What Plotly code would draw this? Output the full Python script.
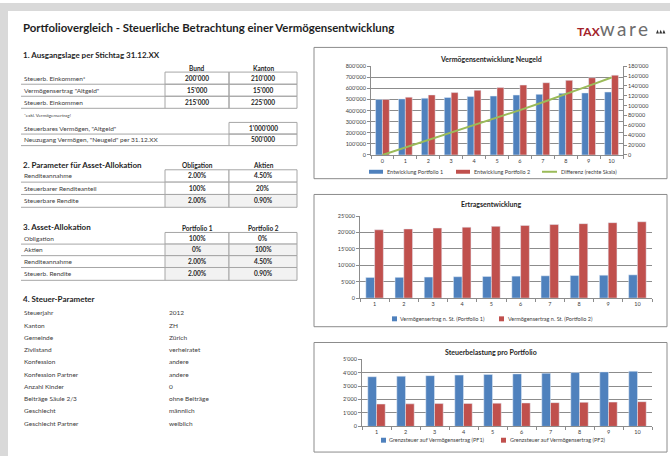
import plotly.graph_objects as go

W, H = 670, 459
def X(p): return p / W
def Y(p): return 1 - p / H

FONT = "Lato, 'Open Sans', sans-serif"
BLUE, RED, GREEN = "#4f81bd", "#c0504d", "#9bbb59"
GRID = "#8c8c8c"
TXT = "#404040"

# ---------------- data ----------------
title_text = "Portfoliovergleich - Steuerliche Betrachtung einer Vermögensentwicklung"

s1_title = "1. Ausgangslage per Stichtag 31.12.XX"
s1_cols = ["Bund", "Kanton"]
s1_labels = ["Steuerb. Einkommen*", 'Vermögensertrag "Altgeld"', "Steuerb. Einkommen"]
s1_bund = [200000, 15000, 215000]
s1_kanton = [210000, 15000, 225000]
s1_note = "*exkl. Vermögensertrag!"
s1b_labels = ['Steuerbares Vermögen, "Altgeld"', 'Neuzugang Vermögen, "Neugeld" per 31.12.XX']
s1b_values = [1000000, 500000]

s2_title = "2. Parameter für Asset-Allokation"
s2_cols = ["Obligation", "Aktien"]
s2_labels = ["Renditeannahme", "Steuerbarer Renditeanteil", "Steuerbare Rendite"]
s2_oblig = ["2.00%", "100%", "2.00%"]
s2_aktien = ["4.50%", "20%", "0.90%"]

s3_title = "3. Asset-Allokation"
s3_cols = ["Portfolio 1", "Portfolio 2"]
s3_labels = ["Obligation", "Aktien", "Renditeannahme", "Steuerb. Rendite"]
s3_pf1 = ["100%", "0%", "2.00%", "2.00%"]
s3_pf2 = ["0%", "100%", "4.50%", "0.90%"]

s4_title = "4. Steuer-Parameter"
s4_labels = ["Steuerjahr", "Kanton", "Gemeinde", "Zivilstand", "Konfession",
             "Konfession Partner", "Anzahl Kinder", "Beiträge Säule 2/3",
             "Geschlecht", "Geschlecht Partner"]
s4_values = ["2012", "ZH", "Zürich", "verheiratet", "andere", "andere", "0",
             "ohne Beiträge", "männlich", "weiblich"]

# Chart 1
c1_title = "Vermögensentwicklung Neugeld"
c1_years = [0, 1, 2, 3, 4, 5, 6, 7, 8, 9, 10]
c1_pf1 = [500000, 505000, 512000, 518000, 526000, 531000, 540000, 546000, 555000, 559000, 567000]
c1_pf2 = [500000, 521000, 541000, 562000, 583000, 607000, 630000, 651000, 672000, 696000, 719000]
c1_diff = [0, 15000, 30000, 45000, 60000, 75500, 91000, 107000, 123000, 140000, 157000]
c1_names = ["Entwicklung Portfolio 1", "Entwicklung Portfolio 2", "Differenz (rechte Skala)"]

# Chart 2
c2_title = "Ertragsentwicklung"
c2_years = [1, 2, 3, 4, 5, 6, 7, 8, 9, 10]
c2_pf1 = [6300, 6340, 6420, 6520, 6600, 6700, 6800, 6880, 6980, 7090]
c2_pf2 = [20840, 21100, 21380, 21640, 21900, 22180, 22450, 22720, 23020, 23300]
c2_names = ["Vermögensertrag n. St. (Portfolio 1)", "Vermögensertrag n. St. (Portfolio 2)"]

# Chart 3
c3_title = "Steuerbelastung pro Portfolio"
c3_years = [1, 2, 3, 4, 5, 6, 7, 8, 9, 10]
c3_pf1 = [3700, 3740, 3780, 3820, 3870, 3910, 3960, 4010, 4060, 4110]
c3_pf2 = [1665, 1680, 1700, 1710, 1730, 1745, 1770, 1795, 1810, 1840]
c3_names = ["Grenzsteuer auf Vermögensertrag (PF1)", "Grenzsteuer auf Vermögensertrag (PF2)"]

def fmt(v):
    return f"{v:,}".replace(",", "'")

# ---------------- figure ----------------
fig = go.Figure()
fig.add_bar(x=c1_years, y=c1_pf1, name=c1_names[0], marker_color=BLUE, xaxis="x", yaxis="y")
fig.add_bar(x=c1_years, y=c1_pf2, name=c1_names[1], marker_color=RED, xaxis="x", yaxis="y")
fig.add_scatter(x=c1_years, y=c1_diff, name=c1_names[2], mode="lines",
                line=dict(color=GREEN, width=2), xaxis="x", yaxis="y2")
fig.add_bar(x=c2_years, y=c2_pf1, name=c2_names[0], marker_color=BLUE, xaxis="x2", yaxis="y3")
fig.add_bar(x=c2_years, y=c2_pf2, name=c2_names[1], marker_color=RED, xaxis="x2", yaxis="y3")
fig.add_bar(x=c3_years, y=c3_pf1, name=c3_names[0], marker_color=BLUE, xaxis="x3", yaxis="y4")
fig.add_bar(x=c3_years, y=c3_pf2, name=c3_names[1], marker_color=RED, xaxis="x3", yaxis="y4")

tickfont = dict(family=FONT, size=5.5, color=TXT)

def xax(dom, anchor, vals, rng):
    return dict(domain=[X(dom[0]), X(dom[1])], anchor=anchor, range=rng,
                tickmode="array", tickvals=vals, ticktext=[str(v) for v in vals],
                ticks="", showgrid=False, showline=True, linecolor=GRID, linewidth=1,
                tickfont=tickfont, zeroline=False, fixedrange=True,
                minor=dict(tickmode="linear", tick0=rng[0], dtick=1, ticks="outside",
                           ticklen=3, tickcolor=GRID, showgrid=False))

def yax(dom, anchor, rng, dt, side="left", overlay=None, grid=True):
    d = dict(domain=[Y(dom[1]), Y(dom[0])], anchor=anchor, range=rng, dtick=dt,
             tickformat=",d", showgrid=grid, gridcolor=GRID, gridwidth=1,
             showline=True, linecolor=GRID, linewidth=1, ticks="outside", ticklen=3,
             tickcolor=GRID, tickfont=tickfont, zeroline=False, side=side, fixedrange=True)
    if overlay:
        d["overlaying"] = overlay
    return d

fig.update_layout(
    xaxis=xax((371, 623), "y", c1_years, [-0.5, 10.5]),
    yaxis=yax((64, 154), "x", [0, 800000], 100000),
    yaxis2=yax((64, 154), "x", [0, 180000], 20000, side="right", overlay="y", grid=False),
    xaxis2=xax((360, 652), "y3", c2_years, [0.5, 10.5]),
    yaxis3=yax((216, 299), "x2", [0, 25000], 5000),
    xaxis3=xax((362, 652), "y4", c3_years, [0.5, 10.5]),
    yaxis4=yax((361, 429), "x3", [0, 5000], 1000),
)

shapes = []
ann = []

def text(x, y, s, size=7, color=TXT, bold=False, xanchor="left"):
    if bold:
        s = "<b>" + s + "</b>"
    ann.append(dict(x=X(x), y=Y(y), xref="paper", yref="paper", text=s, showarrow=False,
                    xanchor=xanchor, yanchor="middle",
                    font=dict(family=FONT, size=size, color=color)))

def line(x0, y0, x1, y1, color="#a6a6a6", width=1):
    shapes.append(dict(type="line", xref="paper", yref="paper", x0=X(x0), y0=Y(y0),
                       x1=X(x1), y1=Y(y1), line=dict(color=color, width=width)))

def rect(x0, y0, x1, y1, fill="rgba(0,0,0,0)", color="#a6a6a6", width=1, layer="above"):
    shapes.append(dict(type="rect", xref="paper", yref="paper", x0=X(x0), y0=Y(y0),
                       x1=X(x1), y1=Y(y1), fillcolor=fill,
                       line=dict(color=color, width=width), layer=layer))

# page background strips
rect(0, 0, 670, 8, fill="#d9d9d9", width=0, layer="below")
rect(0, 0, 8, 459, fill="#d9d9d9", width=0, layer="below")

# title and logo
text(21, 25, title_text, size=11.4, color="#1f1f1f", bold=True)
ann.append(dict(x=X(575), y=Y(26), xref="paper", yref="paper", showarrow=False,
                xanchor="left", yanchor="middle",
                text="<b><span style='color:#a3232b'>TAX</span></b>"
                     "<span style='color:#6d6d6d;font-size:19px;letter-spacing:2.5px'>ware</span>",
                font=dict(family=FONT, size=12)))
for i in range(3):
    shapes.append(dict(type="path", xref="paper", yref="paper",
                       path=f"M {X(656+i*3.2)} {Y(31)} L {X(657.5+i*3.2)} {Y(27)} L {X(659+i*3.2)} {Y(31)} Z",
                       fillcolor="#333", line=dict(width=0)))

LX0, C1, C2, C3 = 21, 165, 229, 297
CC1, CC2 = (C1 + C2) / 2, (C2 + C3) / 2
VAL = "#262626"

# Section 1
text(LX0, 53, s1_title, size=8, color="#1f1f1f", bold=True)
text(CC1, 66, s1_cols[0], size=6.5, color=VAL, bold=True, xanchor="center")
text(CC2, 66, s1_cols[1], size=6.5, color=VAL, bold=True, xanchor="center")
rows1 = [70, 82.3, 94.5, 106.7]
for i, lab in enumerate(s1_labels):
    y0, y1 = rows1[i], rows1[i + 1]
    rect(C1, y0, C2, y1)
    rect(C2, y0, C3, y1)
    line(LX0, y1, C1, y1)
    yc = (y0 + y1) / 2
    text(LX0 + 1, yc, lab, size=6.5)
    text(CC1, yc, fmt(s1_bund[i]), size=6.5, color=VAL, bold=True, xanchor="center")
    text(CC2, yc, fmt(s1_kanton[i]), size=6.5, color=VAL, bold=True, xanchor="center")
text(LX0 + 1, 114, s1_note, size=4.5)
rows1b = [121, 132.8, 144.5]
for i, lab in enumerate(s1b_labels):
    y0, y1 = rows1b[i], rows1b[i + 1]
    rect(C2, y0, C3, y1)
    line(LX0, y1, C2, y1)
    yc = (y0 + y1) / 2
    text(LX0 + 1, yc, lab, size=6.5)
    text(CC2, yc, fmt(s1b_values[i]), size=6.5, color=VAL, bold=True, xanchor="center")

# Section 2
text(LX0, 164, s2_title, size=8, color="#1f1f1f", bold=True)
text(CC1, 165, s2_cols[0], size=6.5, color=VAL, bold=True, xanchor="center")
text(CC2, 165, s2_cols[1], size=6.5, color=VAL, bold=True, xanchor="center")
rows2 = [169, 181.5, 194, 207]
for i, lab in enumerate(s2_labels):
    y0, y1 = rows2[i], rows2[i + 1]
    fill = "#f2f2f2" if i == 2 else "white"
    rect(C1, y0, C2, y1, fill=fill, layer="below")
    rect(C2, y0, C3, y1, fill=fill, layer="below")
    line(LX0, y1, C1, y1)
    yc = (y0 + y1) / 2
    text(LX0 + 1, yc, lab, size=6.5)
    text(CC1, yc, s2_oblig[i], size=6.5, color=VAL, bold=True, xanchor="center")
    text(CC2, yc, s2_aktien[i], size=6.5, color=VAL, bold=True, xanchor="center")

# Section 3
text(LX0, 227, s3_title, size=8, color="#1f1f1f", bold=True)
text(CC1, 228, s3_cols[0], size=6.5, color=VAL, bold=True, xanchor="center")
text(CC2, 228, s3_cols[1], size=6.5, color=VAL, bold=True, xanchor="center")
rows3 = [232.5, 244.3, 256, 268, 281]
for i, lab in enumerate(s3_labels):
    y0, y1 = rows3[i], rows3[i + 1]
    fill = "#f2f2f2" if i >= 1 else "white"
    rect(C1, y0, C2, y1, fill=fill, layer="below")
    rect(C2, y0, C3, y1, fill=fill, layer="below")
    line(LX0, y1, C1, y1)
    yc = (y0 + y1) / 2
    text(LX0 + 1, yc, lab, size=6.5)
    text(CC1, yc, s3_pf1[i], size=6.5, color=VAL, bold=True, xanchor="center")
    text(CC2, yc, s3_pf2[i], size=6.5, color=VAL, bold=True, xanchor="center")

# Section 4
text(LX0, 300, s4_title, size=8, color="#1f1f1f", bold=True)
for i, (lab, val) in enumerate(zip(s4_labels, s4_values)):
    yc = 314 + i * 12.4
    text(LX0 + 1, yc, lab, size=6.5)
    text(167, yc, val, size=6.5)

# chart boxes
rect(314, 45, 667, 178, color="#8c8c8c", layer="below")
rect(314, 194, 667, 328, color="#8c8c8c", layer="below")
rect(314, 344, 667, 455, color="#8c8c8c", layer="below")

# chart titles
text(491, 57, c1_title, size=7, color="#1f1f1f", bold=True, xanchor="center")
text(491, 204, c2_title, size=7, color="#1f1f1f", bold=True, xanchor="center")
text(491, 354, c3_title, size=7, color="#1f1f1f", bold=True, xanchor="center")

# legends
def leg_box(x0, y, w, h, color, label):
    rect(x0, y - h / 2, x0 + w, y + h / 2, fill=color, width=0)
    text(x0 + w + 1.5, y, label, size=5.5)

leg_box(369, 171, 14, 4, BLUE, c1_names[0])
leg_box(456, 171, 14, 4, RED, c1_names[1])
line(542, 171, 557, 171, color=GREEN, width=2)
text(558.5, 171, c1_names[2], size=5.5)

leg_box(392, 320, 5, 5, BLUE, c2_names[0])
leg_box(499, 320, 5, 5, RED, c2_names[1])

leg_box(381, 443, 5, 5, BLUE, c3_names[0])
leg_box(501, 443, 5, 5, RED, c3_names[1])

fig.update_layout(
    width=W, height=H, margin=dict(l=0, r=0, t=0, b=0),
    paper_bgcolor="white", plot_bgcolor="rgba(0,0,0,0)",
    showlegend=False, barmode="group", bargap=0.4, bargroupgap=0,
    separators=".'", font=dict(family=FONT, color=TXT),
    shapes=shapes, annotations=ann,
)

fig.write_html("out.html", config={"displayModeBar": False},
               post_script="document.body.style.margin='0';document.body.style.padding='0';")
